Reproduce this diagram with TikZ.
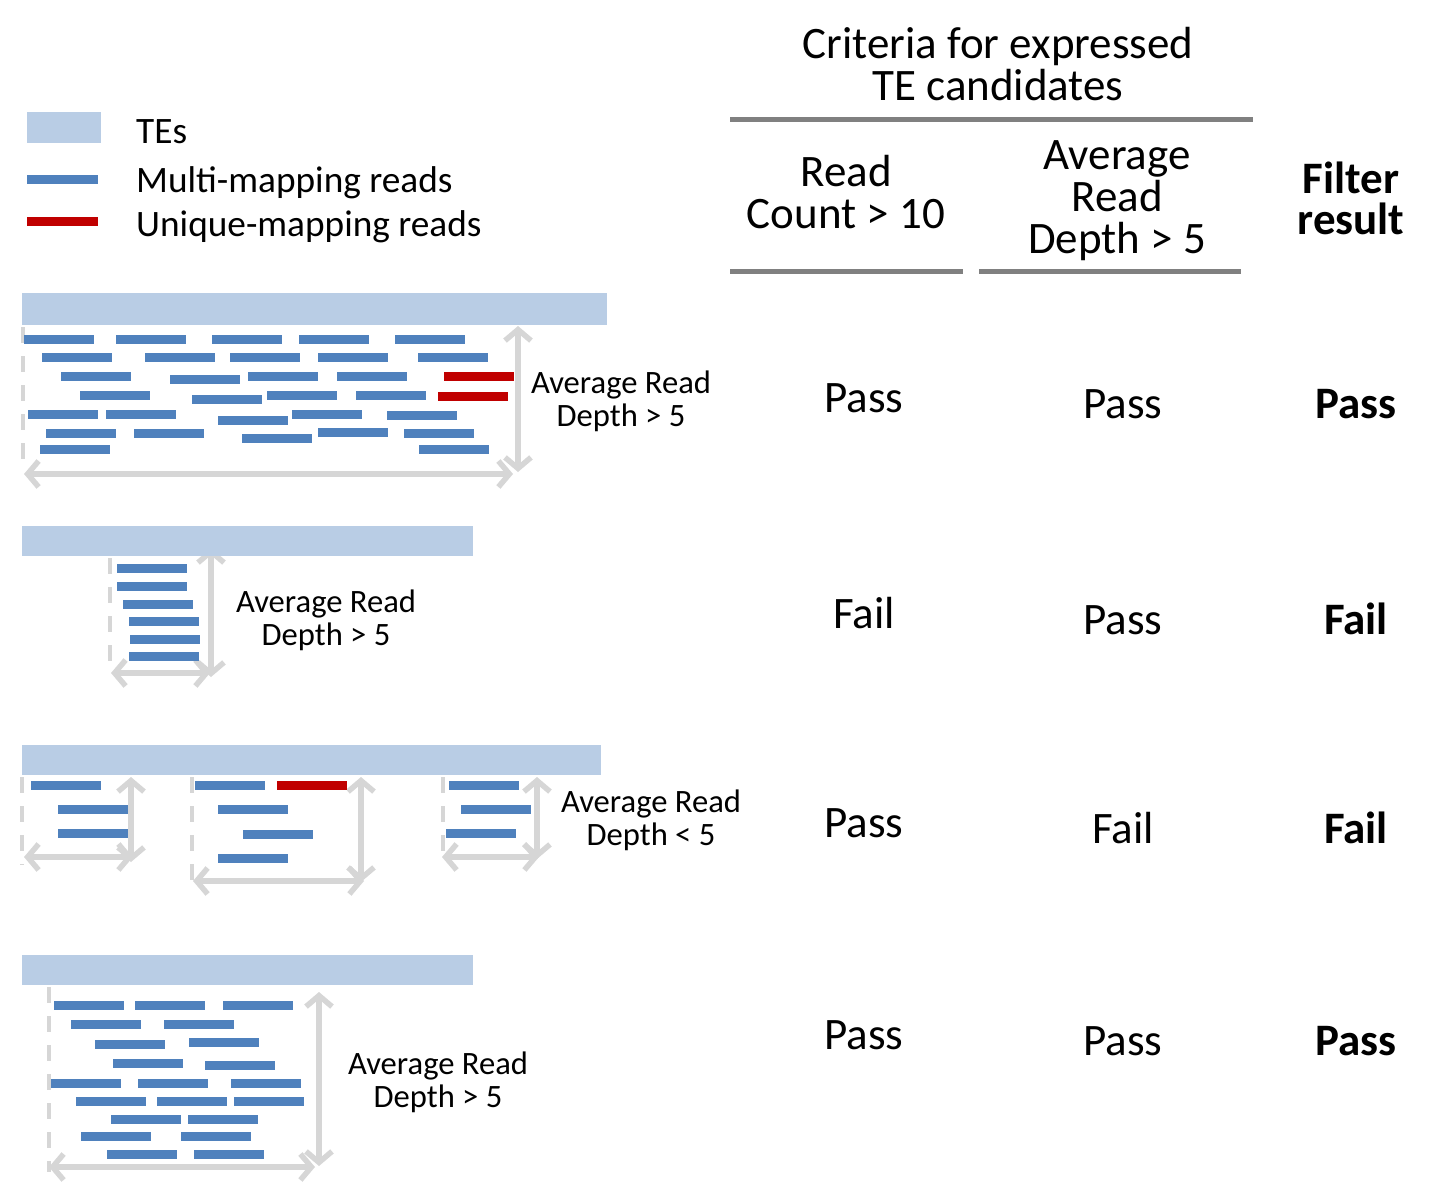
\documentclass[tikz,border=0pt]{standalone}
\usepackage{fontspec}
\setmainfont{Carlito}
\usetikzlibrary{arrows.meta}
\definecolor{tebar}{HTML}{B9CDE5}
\definecolor{multi}{HTML}{4F81BD}
\definecolor{uniq}{HTML}{C00000}
\definecolor{dimgray}{HTML}{D6D6D6}
\definecolor{rulegray}{HTML}{808080}
\begin{document}
\begin{tikzpicture}[x=1pt,y=-1pt,
  tebox/.style={fill=tebar},
  dimarrow/.style={draw=dimgray,line width=5.5pt,{Straight Barb[length=11pt,width=26pt]}-{Straight Barb[length=11pt,width=26pt]}},
  dimdash/.style={draw=dimgray,line width=4.5pt,dash pattern=on 16pt off 13pt},
  hrule/.style={draw=rulegray,line width=5pt},
  lab/.style={anchor=base,inner sep=0pt,font=\fontsize{32.6}{38}\selectfont},
  leg/.style={anchor=base west,inner sep=0pt,font=\fontsize{37.3}{44}\selectfont},
  tab/.style={anchor=base,inner sep=0pt,font=\fontsize{45}{42}\selectfont},
  tabb/.style={anchor=base,inner sep=0pt,font=\fontsize{45}{42}\selectfont\bfseries}
]
\useasboundingbox (0,0) rectangle (1449,1194);

% ---------- legend ----------
\fill[tebar] (27,112) rectangle (101,143);
\fill[multi] (27,175) rectangle (98,184);
\fill[uniq] (27,217) rectangle (98,226);
\node[leg] (legTE) at (136,143) {TEs};
\node[leg] (legMulti) at (136,192) {Multi-mapping reads};
\node[leg] (legUniq) at (136,236) {Unique-mapping reads};

% ---------- header ----------
\node[tab] (hcrit1) at (998,58) {Criteria for expressed};
\node[tab] (hcrit2) at (998,100) {TE candidates};
\draw[hrule] (730,119) -- (1253,119);
\node[tab] (hrc1) at (846,186) {Read};
\node[tab] (hrc2) at (846,228) {Count > 10};
\node[tab] (hard1) at (1117,169) {Average};
\node[tab] (hard2) at (1117,211) {Read};
\node[tab] (hard3) at (1117,253) {Depth > 5};
\node[tabb] (hfr1) at (1351,193) {Filter};
\node[tabb] (hfr2) at (1351,234) {result};
\draw[hrule] (730,271) -- (963,271);
\draw[hrule] (979,271) -- (1241,271);

% ---------- results ----------
\node[tab] (r1c1) at (864,412) {Pass};
\node[tab] (r1c2) at (1123,418) {Pass};
\node[tabb] (r1c3) at (1356,418) {Pass};
\node[tab] (r2c1) at (864,628) {Fail};
\node[tab] (r2c2) at (1123,634) {Pass};
\node[tabb] (r2c3) at (1356,634) {Fail};
\node[tab] (r3c1) at (864,837) {Pass};
\node[tab] (r3c2) at (1123,843) {Fail};
\node[tabb] (r3c3) at (1356,843) {Fail};
\node[tab] (r4c1) at (864,1049) {Pass};
\node[tab] (r4c2) at (1123,1055) {Pass};
\node[tabb] (r4c3) at (1356,1055) {Pass};

% ---------- panel 1 ----------
\draw[dimdash] (23,327) -- (23,470);
\draw[dimarrow] (518,326) -- (518,472);
\draw[dimarrow] (24,474) -- (513,474);
\fill[tebar] (22,293) rectangle (607,325);
\foreach \a/\y in {24/339,116/339,212/339,299/339,395/339,
  42/357,145/357,230/357,318/357,418/357,
  61/376,170/379,248/376,337/376,
  80/395,192/399,267/395,356/395,
  28/414,106/414,218/420,292/414,387/415,
  46/433,134/433,242/438,318/432,404/433,
  40/449,419/449}
  \fill[multi] (\a,\y-4.5) rectangle ++(70,9);
\fill[uniq] (444,371.5) rectangle ++(70,9);
\fill[uniq] (438,391.5) rectangle ++(70,9);
\node[lab] (p1a) at (621,393) {Average Read};
\node[lab] (p1b) at (621,426) {Depth > 5};

% ---------- panel 2 ----------
\draw[dimdash] (110,558) -- (110,673);
\draw[dimarrow] (211,548) -- (211,677);
\draw[dimarrow] (111,673) -- (210,673);
\fill[tebar] (22,526) rectangle (473,556);
\foreach \a/\y in {117/568,117/586,123/604,129/621,130/639,129/656}
  \fill[multi] (\a,\y-4.5) rectangle ++(70,9);
\node[lab] (p2a) at (326,612) {Average Read};
\node[lab] (p2b) at (326,645) {Depth > 5};

% ---------- panel 3 ----------
\draw[dimdash] (22,777) -- (22,865);
\draw[dimarrow] (131,777) -- (131,862);
\draw[dimarrow] (24,857) -- (133,857);
\draw[dimdash] (192,777) -- (192,885);
\draw[dimarrow] (361,777) -- (361,882);
\draw[dimarrow] (193,881) -- (364,881);
\draw[dimdash] (443,777) -- (443,860);
\draw[dimarrow] (537,777) -- (537,859);
\draw[dimarrow] (442,857) -- (539,857);
\fill[tebar] (22,745) rectangle (601,775);
\foreach \a/\y in {31/785,58/809,58/833,
  195/785,218/809,243/834,218/858,
  449/785,461/809,446/833}
  \fill[multi] (\a,\y-4.5) rectangle ++(70,9);
\fill[uniq] (277,780.5) rectangle ++(70,9);
\node[lab] (p3a) at (651,812) {Average Read};
\node[lab] (p3b) at (651,845) {Depth < 5};

% ---------- panel 4 ----------
\draw[dimdash] (49,987) -- (49,1172);
\draw[dimarrow] (319,992) -- (319,1166);
\draw[dimarrow] (49,1167) -- (315,1167);
\fill[tebar] (22,955) rectangle (473,985);
\foreach \a/\y in {54/1005,135/1005,223/1005,
  71/1024,164/1024,
  95/1044,189/1042,
  113/1063,205/1065,
  51/1083,138/1083,231/1083,
  76/1101,157/1101,234/1101,
  111/1119,188/1119,
  81/1136,181/1136,
  107/1154,194/1154}
  \fill[multi] (\a,\y-4.5) rectangle ++(70,9);
\node[lab] (p4a) at (438,1074) {Average Read};
\node[lab] (p4b) at (438,1107) {Depth > 5};
\end{tikzpicture}
\end{document}
